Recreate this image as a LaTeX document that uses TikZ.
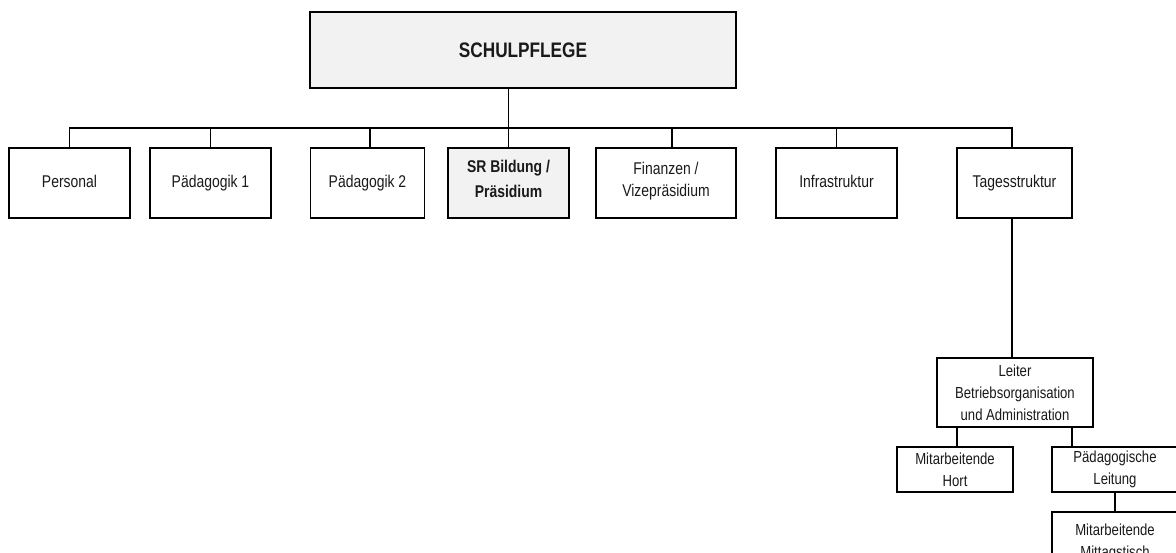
\documentclass[tikz,border=0pt]{standalone}
\usepackage{fontspec}
\setmainfont{Liberation Sans}[FakeStretch=0.82]
\definecolor{boxgray}{HTML}{F2F2F2}
\definecolor{txt}{HTML}{1A1A1A}
\begin{document}
\begin{tikzpicture}[x=1pt,y=-1pt,
  box/.style={draw=black, line width=1.8pt, fill=white, anchor=north west,
    inner sep=0pt, outer sep=0pt, align=center, text=txt},
  rowbox/.style={box, minimum height=70pt, font=\fontsize{17}{22}\selectfont,
    execute at begin node={\strut}, execute at end node={\strut}},
  lowbox/.style={box, font=\fontsize{16}{22}\selectfont},
  graybox/.style={fill=boxgray},
  conn/.style={draw=black, line width=1.8pt}]
\useasboundingbox (0,0) rectangle (1176,553);
\fill[white] (0,0) rectangle (1176,553);
\clip (0,0) rectangle (1176,553);

% top
\node[box, graybox, minimum width=426pt, minimum height=76pt,
  font=\fontsize{21}{25}\selectfont\bfseries] (schul) at (310,12) {SCHULPFLEGE};

% row
\node[rowbox, minimum width=121pt] (personal) at (9,148) {Personal};
\node[rowbox, minimum width=121pt] (ped1) at (150,148) {Pädagogik 1};
\node[rowbox, minimum width=114pt] (ped2) at (310.5,148) {Pädagogik 2};
\node[rowbox, graybox, minimum width=121pt, font=\fontsize{17}{25}\selectfont\bfseries] (sr) at (448,148) {SR Bildung /\\Präsidium};
\node[rowbox, minimum width=140pt] (fin) at (596,148) {Finanzen /\\Vizepräsidium};
\node[rowbox, minimum width=121pt] (infra) at (776,148) {Infrastruktur};
\node[rowbox, minimum width=115pt] (tages) at (957,148) {Tagesstruktur};

% lower
\node[lowbox, minimum width=156pt, minimum height=69pt] (leiter) at (937,358) {Leiter\\Betriebsorganisation\\und Administration};
\node[lowbox, minimum width=116pt, minimum height=45pt] (hort) at (897,447) {Mitarbeitende\\Hort};
\node[lowbox, minimum width=126pt, minimum height=45pt] (pl) at (1052,447) {Pädagogische\\Leitung};
\node[lowbox, minimum width=126pt, minimum height=60pt] (mitt) at (1052,512) {Mitarbeitende\\Mittagstisch};

% connectors
\coordinate (busy) at (0,128);
\draw[conn] (sr.north |- schul.south) -- (sr.north);
\draw[conn] (personal.north) -- (personal.north |- busy) -- ([xshift=-2.5pt]tages.north |- busy) -- ([xshift=-2.5pt]tages.north);
\draw[conn] (ped1.north |- busy) -- (ped1.north);
\draw[conn] ([xshift=2.5pt]ped2.north |- busy) -- ([xshift=2.5pt]ped2.north);
\draw[conn] ([xshift=6pt]fin.north |- busy) -- ([xshift=6pt]fin.north);
\draw[conn] (infra.north |- busy) -- (infra.north);
\draw[conn] ([xshift=-2.5pt]tages.south) -- ([xshift=-2.5pt]tages.south |- leiter.north);
\draw[conn] ([xshift=2pt]hort.north |- leiter.south) -- ([xshift=2pt]hort.north);
\draw[conn] ([xshift=-43pt]pl.north |- leiter.south) -- ([xshift=-43pt]pl.north);
\draw[conn] (pl.south) -- (mitt.north);
\end{tikzpicture}
\end{document}
